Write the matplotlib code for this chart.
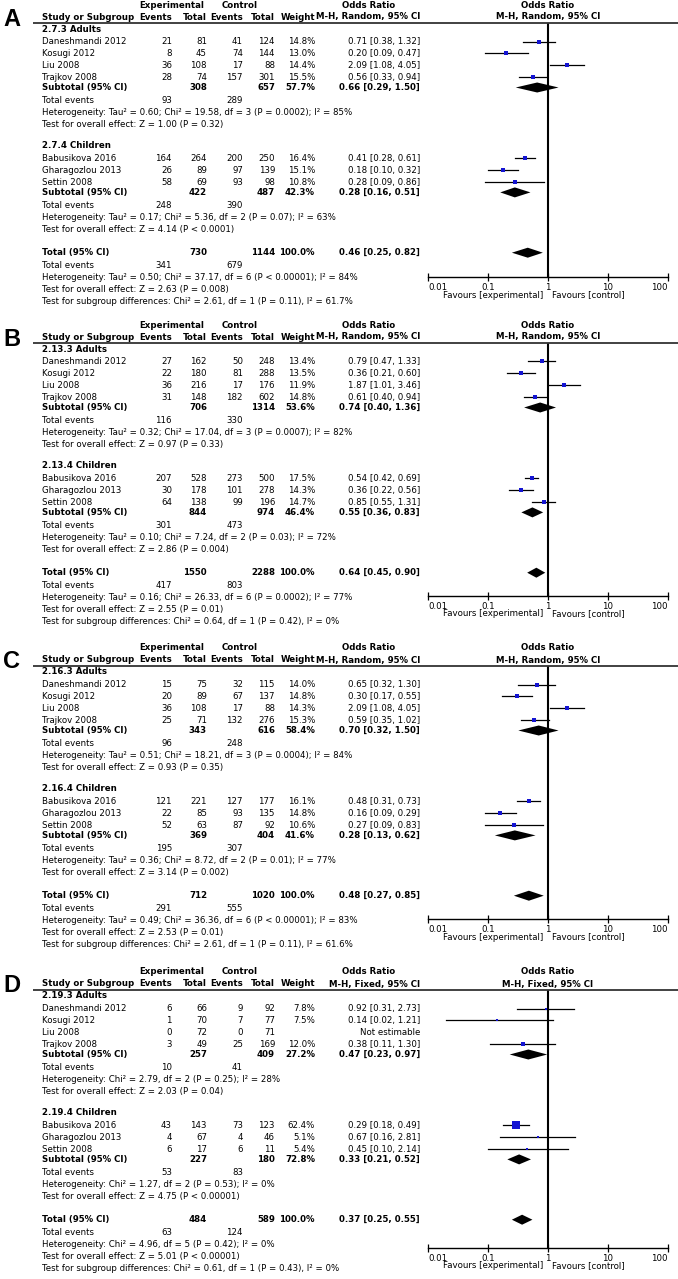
import matplotlib
matplotlib.use("Agg")
import matplotlib.pyplot as plt
from matplotlib.transforms import blended_transform_factory

# ---------------- DATA ----------------
A_groups = ["2.7.3 Adults", "2.7.4 Children"]
A_studies = ["Daneshmandi 2012", "Kosugi 2012", "Liu 2008", "Trajkov 2008",
             "Babusikova 2016", "Gharagozlou 2013", "Settin 2008"]
A_group_of = [0, 0, 0, 0, 1, 1, 1]
A_exp_events = [21, 8, 36, 28, 164, 26, 58]
A_exp_total = [81, 45, 108, 74, 264, 89, 69]
A_ctl_events = [41, 74, 17, 157, 200, 97, 93]
A_ctl_total = [124, 144, 88, 301, 250, 139, 98]
A_weight = [14.8, 13.0, 14.4, 15.5, 16.4, 15.1, 10.8]
A_or = [0.71, 0.20, 2.09, 0.56, 0.41, 0.18, 0.28]
A_lo = [0.38, 0.09, 1.08, 0.33, 0.28, 0.10, 0.09]
A_hi = [1.32, 0.47, 4.05, 0.94, 0.61, 0.32, 0.86]
A_sub_exp_total = [308, 422]
A_sub_ctl_total = [657, 487]
A_sub_weight = [57.7, 42.3]
A_sub_or = [0.66, 0.28]
A_sub_lo = [0.29, 0.16]
A_sub_hi = [1.50, 0.51]
A_sub_exp_events = [93, 248]
A_sub_ctl_events = [289, 390]
A_sub_het = ["Heterogeneity: Tau² = 0.60; Chi² = 19.58, df = 3 (P = 0.0002); I² = 85%",
             "Heterogeneity: Tau² = 0.17; Chi² = 5.36, df = 2 (P = 0.07); I² = 63%"]
A_sub_z = ["Test for overall effect: Z = 1.00 (P = 0.32)",
           "Test for overall effect: Z = 4.14 (P < 0.0001)"]
A_total = [730, 1144, 100.0]
A_total_ci = [0.46, 0.25, 0.82]
A_total_events = [341, 679]
A_total_text = ["Heterogeneity: Tau² = 0.50; Chi² = 37.17, df = 6 (P < 0.00001); I² = 84%",
                "Test for overall effect: Z = 2.63 (P = 0.008)",
                "Test for subgroup differences: Chi² = 2.61, df = 1 (P = 0.11), I² = 61.7%"]

B_groups = ["2.13.3 Adults", "2.13.4 Children"]
B_studies = A_studies
B_group_of = A_group_of
B_exp_events = [27, 22, 36, 31, 207, 30, 64]
B_exp_total = [162, 180, 216, 148, 528, 178, 138]
B_ctl_events = [50, 81, 17, 182, 273, 101, 99]
B_ctl_total = [248, 288, 176, 602, 500, 278, 196]
B_weight = [13.4, 13.5, 11.9, 14.8, 17.5, 14.3, 14.7]
B_or = [0.79, 0.36, 1.87, 0.61, 0.54, 0.36, 0.85]
B_lo = [0.47, 0.21, 1.01, 0.40, 0.42, 0.22, 0.55]
B_hi = [1.33, 0.60, 3.46, 0.94, 0.69, 0.56, 1.31]
B_sub_exp_total = [706, 844]
B_sub_ctl_total = [1314, 974]
B_sub_weight = [53.6, 46.4]
B_sub_or = [0.74, 0.55]
B_sub_lo = [0.40, 0.36]
B_sub_hi = [1.36, 0.83]
B_sub_exp_events = [116, 301]
B_sub_ctl_events = [330, 473]
B_sub_het = ["Heterogeneity: Tau² = 0.32; Chi² = 17.04, df = 3 (P = 0.0007); I² = 82%",
             "Heterogeneity: Tau² = 0.10; Chi² = 7.24, df = 2 (P = 0.03); I² = 72%"]
B_sub_z = ["Test for overall effect: Z = 0.97 (P = 0.33)",
           "Test for overall effect: Z = 2.86 (P = 0.004)"]
B_total = [1550, 2288, 100.0]
B_total_ci = [0.64, 0.45, 0.90]
B_total_events = [417, 803]
B_total_text = ["Heterogeneity: Tau² = 0.16; Chi² = 26.33, df = 6 (P = 0.0002); I² = 77%",
                "Test for overall effect: Z = 2.55 (P = 0.01)",
                "Test for subgroup differences: Chi² = 0.64, df = 1 (P = 0.42), I² = 0%"]

C_groups = ["2.16.3 Adults", "2.16.4 Children"]
C_studies = A_studies
C_group_of = A_group_of
C_exp_events = [15, 20, 36, 25, 121, 22, 52]
C_exp_total = [75, 89, 108, 71, 221, 85, 63]
C_ctl_events = [32, 67, 17, 132, 127, 93, 87]
C_ctl_total = [115, 137, 88, 276, 177, 135, 92]
C_weight = [14.0, 14.8, 14.3, 15.3, 16.1, 14.8, 10.6]
C_or = [0.65, 0.30, 2.09, 0.59, 0.48, 0.16, 0.27]
C_lo = [0.32, 0.17, 1.08, 0.35, 0.31, 0.09, 0.09]
C_hi = [1.30, 0.55, 4.05, 1.02, 0.73, 0.29, 0.83]
C_sub_exp_total = [343, 369]
C_sub_ctl_total = [616, 404]
C_sub_weight = [58.4, 41.6]
C_sub_or = [0.70, 0.28]
C_sub_lo = [0.32, 0.13]
C_sub_hi = [1.50, 0.62]
C_sub_exp_events = [96, 195]
C_sub_ctl_events = [248, 307]
C_sub_het = ["Heterogeneity: Tau² = 0.51; Chi² = 18.21, df = 3 (P = 0.0004); I² = 84%",
             "Heterogeneity: Tau² = 0.36; Chi² = 8.72, df = 2 (P = 0.01); I² = 77%"]
C_sub_z = ["Test for overall effect: Z = 0.93 (P = 0.35)",
           "Test for overall effect: Z = 3.14 (P = 0.002)"]
C_total = [712, 1020, 100.0]
C_total_ci = [0.48, 0.27, 0.85]
C_total_events = [291, 555]
C_total_text = ["Heterogeneity: Tau² = 0.49; Chi² = 36.36, df = 6 (P < 0.00001); I² = 83%",
                "Test for overall effect: Z = 2.53 (P = 0.01)",
                "Test for subgroup differences: Chi² = 2.61, df = 1 (P = 0.11), I² = 61.6%"]

D_groups = ["2.19.3 Adults", "2.19.4 Children"]
D_studies = A_studies
D_group_of = A_group_of
D_exp_events = [6, 1, 0, 3, 43, 4, 6]
D_exp_total = [66, 70, 72, 49, 143, 67, 17]
D_ctl_events = [9, 7, 0, 25, 73, 4, 6]
D_ctl_total = [92, 77, 71, 169, 123, 46, 11]
D_weight = [7.8, 7.5, None, 12.0, 62.4, 5.1, 5.4]
D_or = [0.92, 0.14, None, 0.38, 0.29, 0.67, 0.45]
D_lo = [0.31, 0.02, None, 0.11, 0.18, 0.16, 0.10]
D_hi = [2.73, 1.21, None, 1.30, 0.49, 2.81, 2.14]
D_sub_exp_total = [257, 227]
D_sub_ctl_total = [409, 180]
D_sub_weight = [27.2, 72.8]
D_sub_or = [0.47, 0.33]
D_sub_lo = [0.23, 0.21]
D_sub_hi = [0.97, 0.52]
D_sub_exp_events = [10, 53]
D_sub_ctl_events = [41, 83]
D_sub_het = ["Heterogeneity: Chi² = 2.79, df = 2 (P = 0.25); I² = 28%",
             "Heterogeneity: Chi² = 1.27, df = 2 (P = 0.53); I² = 0%"]
D_sub_z = ["Test for overall effect: Z = 2.03 (P = 0.04)",
           "Test for overall effect: Z = 4.75 (P < 0.00001)"]
D_total = [484, 589, 100.0]
D_total_ci = [0.37, 0.25, 0.55]
D_total_events = [63, 124]
D_total_text = ["Heterogeneity: Chi² = 4.96, df = 5 (P = 0.42); I² = 0%",
                "Test for overall effect: Z = 5.01 (P < 0.00001)",
                "Test for subgroup differences: Chi² = 0.61, df = 1 (P = 0.43), I² = 0%"]

panel_letters = ["A", "B", "C", "D"]
panel_methods = ["Random", "Random", "Random", "Fixed"]
axis_ticks = [0.01, 0.1, 1, 10, 100]
axis_labels = ["0.01", "0.1", "1", "10", "100"]
null_value = 1

# ---------------- LAYOUT / STYLE ----------------
W, H, DPI = 678, 1279, 100
FONT = "DejaVu Sans"
FS = 6.2
BLUE = "#1414d2"
panel_oy = [0, 320, 643, 967]
panel_axis = [277, 276, 276, 281]
X_STUDY, X_EE, X_ET, X_CE, X_CT, X_W, X_OR = 42, 172, 207, 243, 275, 315, 420
FX0, FX1 = 428, 668

fig = plt.figure(figsize=(W / DPI, H / DPI), dpi=DPI)
base = fig.add_axes([0, 0, 1, 1])
base.set_xlim(0, W)
base.set_ylim(H, 0)
base.axis("off")


def T(x, y, s, ha="left", bold=False, size=FS, family=FONT, ax=None):
    (ax or base).text(x, y, s, ha=ha, va="center", fontsize=size, family=family,
                      fontweight="bold" if bold else "normal", color="black")


def fmt_ci(o, l, h):
    return f"{o:.2f} [{l:.2f}, {h:.2f}]"


def draw_panel(k):
    L = panel_letters[k]
    g = globals()
    d = {name: g[f"{L}_{name}"] for name in [
        "groups", "studies", "group_of", "exp_events", "exp_total", "ctl_events",
        "ctl_total", "weight", "or", "lo", "hi", "sub_exp_total", "sub_ctl_total",
        "sub_weight", "sub_or", "sub_lo", "sub_hi", "sub_exp_events",
        "sub_ctl_events", "sub_het", "sub_z", "total", "total_ci",
        "total_events", "total_text"]}
    oy = panel_oy[k]
    ya = oy + panel_axis[k]
    method = panel_methods[k]

    # forest axes
    fax = fig.add_axes([FX0 / W, 1 - ya / H, (FX1 - FX0) / W, (ya - (oy + 23)) / H],
                       label=f"forest{k}")
    fax.set_xscale("log")
    fax.set_xlim(axis_ticks[0], axis_ticks[-1])
    fax.set_ylim(ya, oy + 23)
    fax.patch.set_visible(False)
    for s in ["top", "left", "right"]:
        fax.spines[s].set_visible(False)
    fax.spines["bottom"].set_linewidth(1.0)
    fax.set_yticks([])
    fax.set_xticks(axis_ticks)
    fax.set_xticklabels(axis_labels, fontsize=FS, family=FONT)
    fax.minorticks_off()
    fax.tick_params(axis="x", direction="inout", length=6, width=0.9, pad=1.2)
    tl = fax.get_xticklabels()
    tl[0].set_ha("left")
    tl[-1].set_ha("right")
    # null line: x from the log scale, y in page pixels
    tr = blended_transform_factory(fax.transData, base.transData)
    base.plot([null_value, null_value], [oy + 23, ya], transform=tr,
              color="black", lw=1.5, zorder=1.5, solid_capstyle="butt")

    T(3, oy + 19, L, size=17, bold=True, family="Liberation Sans")
    T(172, oy + 5, "Experimental", ha="center", bold=True)
    T(240, oy + 5, "Control", ha="center", bold=True)
    T(369, oy + 5, "Odds Ratio", ha="center", bold=True)
    T(548, oy + 5, "Odds Ratio", ha="center", bold=True)
    T(X_STUDY, oy + 17, "Study or Subgroup", bold=True)
    for x, s in [(X_EE, "Events"), (X_ET, "Total"), (X_CE, "Events"), (X_CT, "Total"),
                 (X_W, "Weight"), (X_OR, f"M-H, {method}, 95% CI")]:
        T(x, oy + 17, s, ha="right", bold=True)
    T(548, oy + 17, f"M-H, {method}, 95% CI", ha="center", bold=True)
    base.plot([33, 678], [oy + 23, oy + 23], color="#333333", lw=1.3, solid_capstyle="butt")

    def diamond(y, o, lo, hi):
        fax.fill([lo, o, hi, o], [y, y - 5, y, y + 5], color="black", lw=0, zorder=3)

    y = oy + 29
    for gi, gname in enumerate(d["groups"]):
        T(X_STUDY, y, gname, bold=True)
        y += 12.5
        idx = [i for i, gg in enumerate(d["group_of"]) if gg == gi]
        for i in idx:
            T(X_STUDY, y, d["studies"][i])
            T(X_EE, y, str(d["exp_events"][i]), ha="right")
            T(X_ET, y, str(d["exp_total"][i]), ha="right")
            T(X_CE, y, str(d["ctl_events"][i]), ha="right")
            T(X_CT, y, str(d["ctl_total"][i]), ha="right")
            w = d["weight"][i]
            if w is None:
                T(X_OR, y, "Not estimable", ha="right")
            else:
                T(X_W, y, f"{w:.1f}%", ha="right")
                T(X_OR, y, fmt_ci(d["or"][i], d["lo"][i], d["hi"][i]), ha="right")
                fax.plot([d["lo"][i], d["hi"][i]], [y, y], color="black", lw=0.9, zorder=2)
                side_px = 1.05 * w ** 0.5
                fax.plot([d["or"][i]], [y], marker="s", ls="none", color=BLUE,
                         markersize=side_px * 72 / DPI, mew=0, zorder=4)
            y += 11.9
        y -= 1.6
        T(X_STUDY, y, "Subtotal (95% CI)", bold=True)
        T(X_ET, y, str(d["sub_exp_total"][gi]), ha="right", bold=True)
        T(X_CT, y, str(d["sub_ctl_total"][gi]), ha="right", bold=True)
        T(X_W, y, f"{d['sub_weight'][gi]:.1f}%", ha="right", bold=True)
        T(X_OR, y, fmt_ci(d["sub_or"][gi], d["sub_lo"][gi], d["sub_hi"][gi]), ha="right", bold=True)
        diamond(y, d["sub_or"][gi], d["sub_lo"][gi], d["sub_hi"][gi])
        y += 12.8
        T(X_STUDY, y, "Total events")
        T(X_EE, y, str(d["sub_exp_events"][gi]), ha="right")
        T(X_CE, y, str(d["sub_ctl_events"][gi]), ha="right")
        y += 12
        T(X_STUDY, y, d["sub_het"][gi])
        y += 12
        T(X_STUDY, y, d["sub_z"][gi])
        y += 21.5
    y += 2.0
    T(X_STUDY, y, "Total (95% CI)", bold=True)
    T(X_ET, y, str(d["total"][0]), ha="right", bold=True)
    T(X_CT, y, str(d["total"][1]), ha="right", bold=True)
    T(X_W, y, f"{d['total'][2]:.1f}%", ha="right", bold=True)
    T(X_OR, y, fmt_ci(*d["total_ci"]), ha="right", bold=True)
    diamond(y, *d["total_ci"])
    y += 12.8
    T(X_STUDY, y, "Total events")
    T(X_EE, y, str(d["total_events"][0]), ha="right")
    T(X_CE, y, str(d["total_events"][1]), ha="right")
    for s in d["total_text"]:
        y += 12
        T(X_STUDY, y, s)

    T(543, ya + 18, "Favours [experimental]", ha="right")
    T(552, ya + 18, "Favours [control]", ha="left")


for k in range(4):
    draw_panel(k)

fig.savefig("out.png", dpi=DPI)
